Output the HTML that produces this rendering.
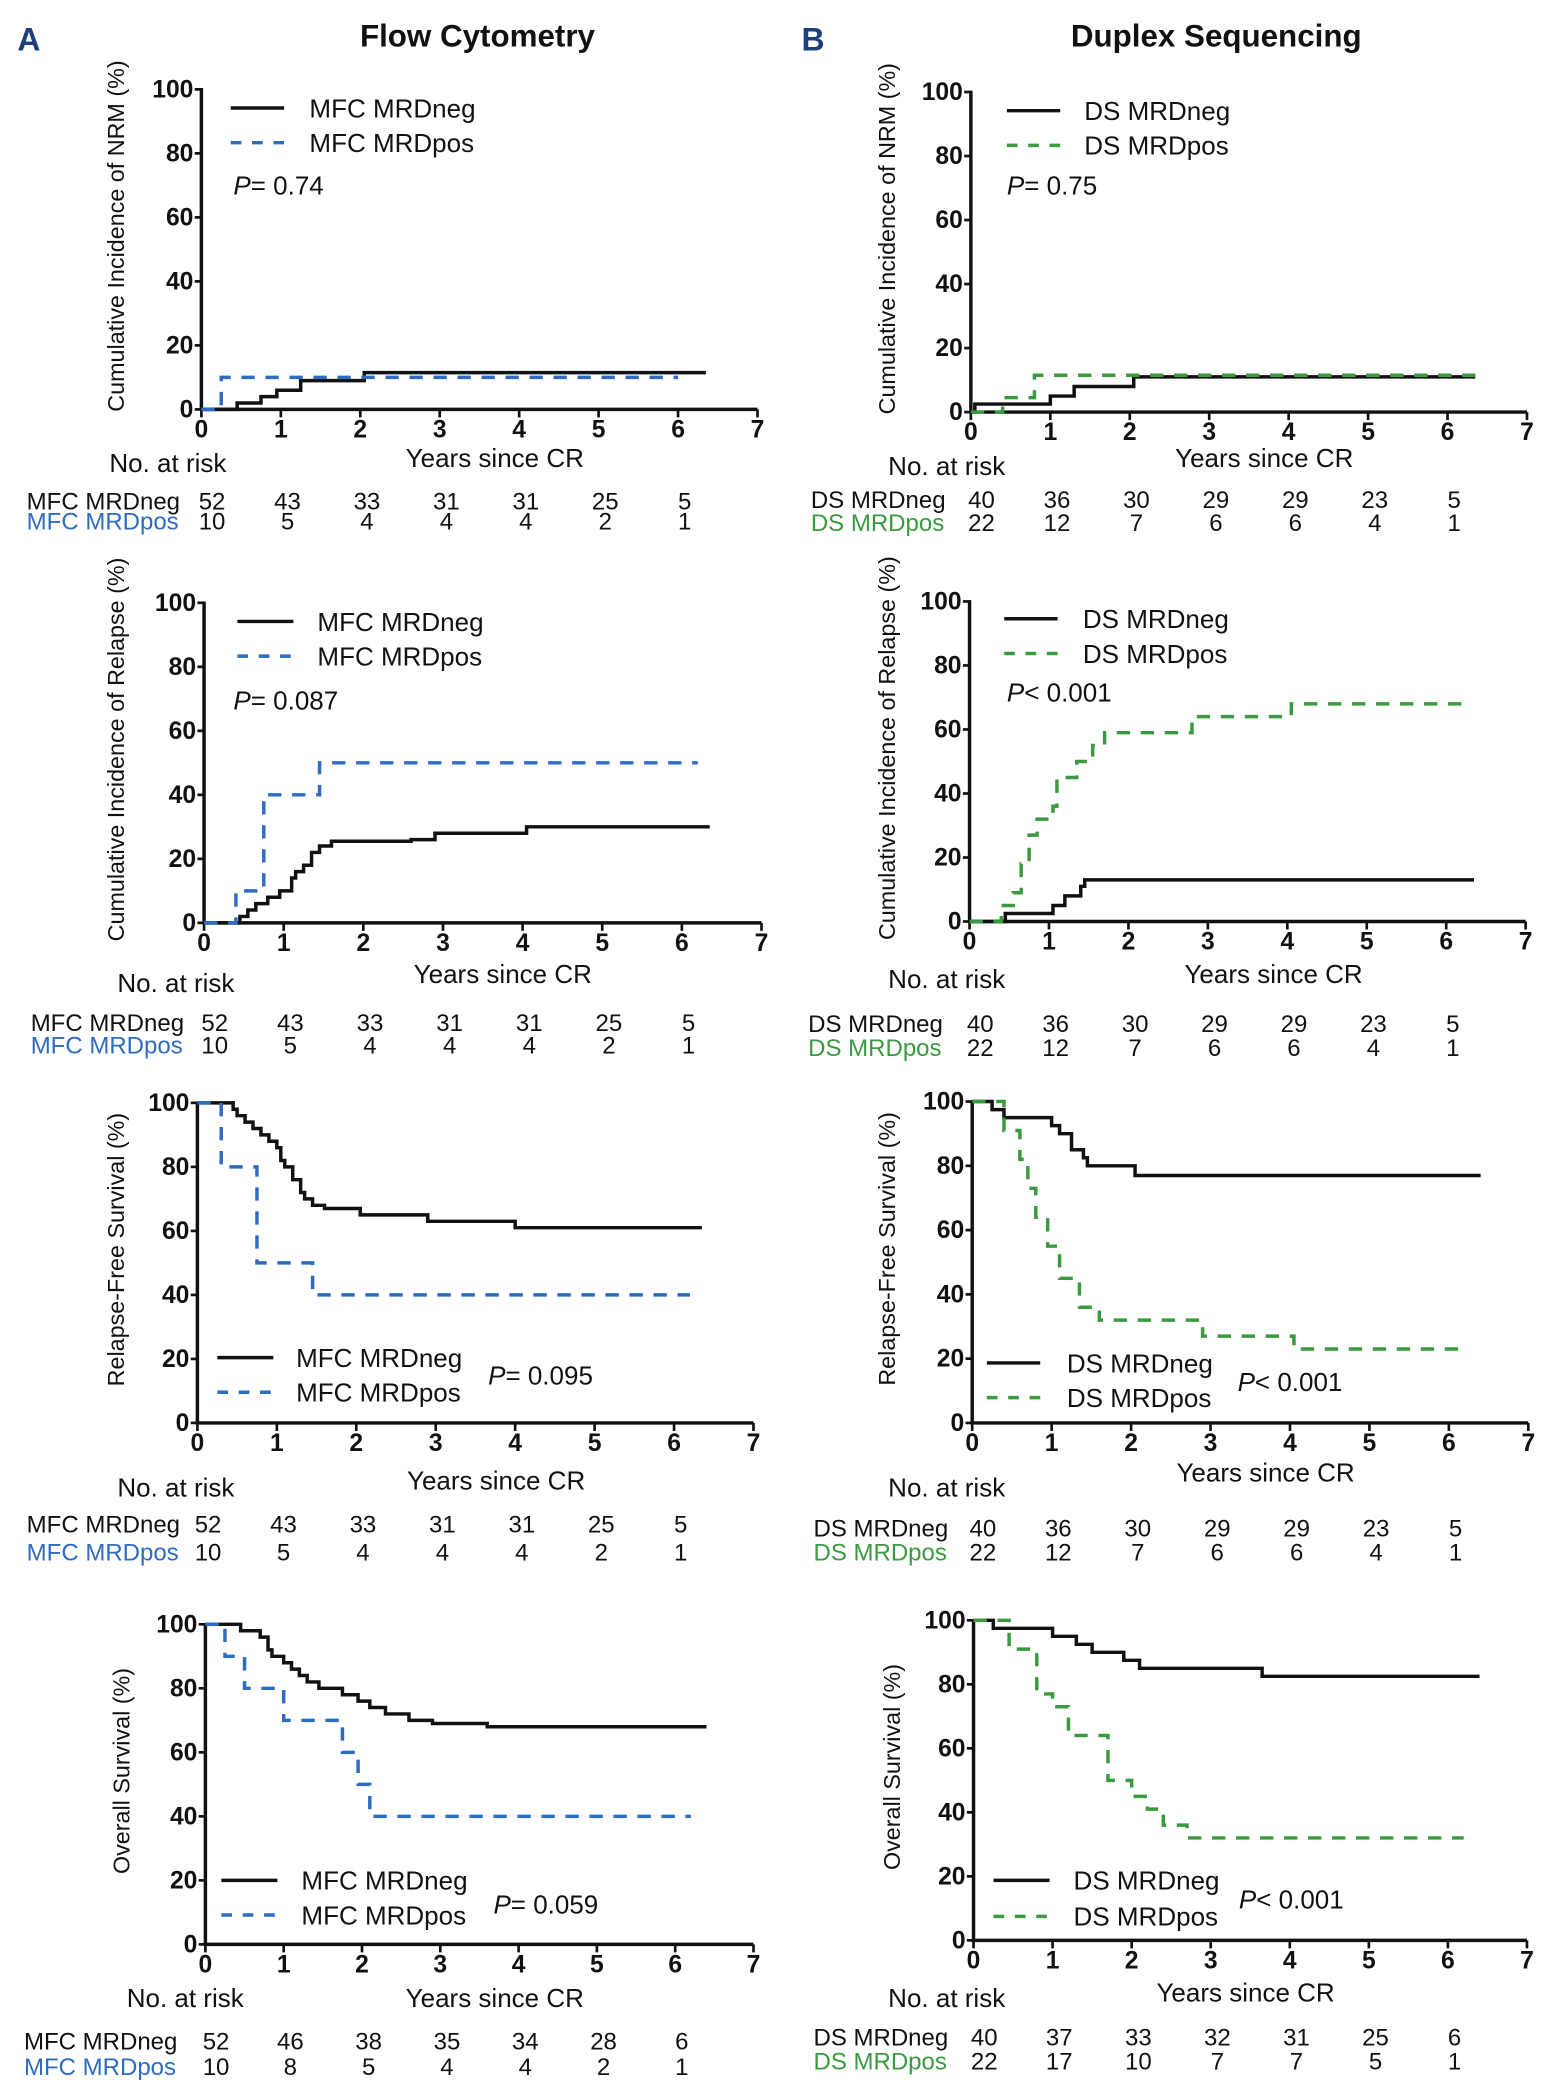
<!DOCTYPE html>
<html><head><meta charset="utf-8"><style>
html,body{margin:0;padding:0;background:#fff}
svg{display:block}
text{font-family:"Liberation Sans Narrow","Liberation Sans",sans-serif;fill:#111}
.tick{font-weight:bold;font-size:18.5px}
.lab{font-size:19.5px}
.ytitle{font-family:"Liberation Sans",sans-serif;font-size:17.5px}
.risk{font-size:18px}
</style></head><body>
<svg id="fig" width="1547" height="2092" viewBox="0 0 1160 1568.7" xmlns="http://www.w3.org/2000/svg">
<text x="13" y="38" style="font-family:'Liberation Sans',sans-serif;font-weight:bold;font-size:24px;fill:#1f3f7a">A</text>
<text x="601" y="38" style="font-family:'Liberation Sans',sans-serif;font-weight:bold;font-size:24px;fill:#1f3f7a">B</text>
<text x="358" y="35" text-anchor="middle" style="font-family:'Liberation Sans',sans-serif;font-weight:bold;font-size:23.5px">Flow Cytometry</text>
<text x="912" y="35" text-anchor="middle" style="font-family:'Liberation Sans',sans-serif;font-weight:bold;font-size:23.5px">Duplex Sequencing</text>
</svg>
<script>
// ---- data (years, percent) ----
const a1NegX=[0,0.45,0.75,0.95,1.25,2.05,6.35];
const a1NegY=[0,2,4,6,9,11.5,11.5];
const a1PosX=[0,0.25,6.0];
const a1PosY=[0,10,10];
const a2NegX=[0,0.45,0.55,0.65,0.8,0.95,1.1,1.15,1.25,1.35,1.45,1.6,2.6,2.9,4.05,6.35];
const a2NegY=[0,2,4,6,8,10,14,16,18,22,24,25.5,26,28,30,30];
const a2PosX=[0,0.4,0.75,1.45,6.2];
const a2PosY=[0,10,40,50,50];
const a3NegX=[0,0.45,0.5,0.6,0.7,0.8,0.9,1.0,1.05,1.1,1.2,1.3,1.35,1.45,1.6,2.05,2.9,4.0,6.35];
const a3NegY=[100,98,96,94,92,90,88,86,82,80,76,72,70,68,67,65,63,61,61];
const a3PosX=[0,0.3,0.75,1.45,6.2];
const a3PosY=[100,80,50,40,40];
const a4NegX=[0,0.45,0.7,0.8,0.85,1.0,1.1,1.2,1.3,1.45,1.75,1.95,2.1,2.3,2.6,2.9,3.6,6.4];
const a4NegY=[100,98,96,92,90,88,86,84,82,80,78,76,74,72,70,69,68,68];
const a4PosX=[0,0.25,0.5,1.0,1.75,1.95,2.1,6.2];
const a4PosY=[100,90,80,70,60,50,40,40];
const b1NegX=[0,0.05,1.0,1.3,2.05,6.35];
const b1NegY=[0,2.5,5,8,11,11];
const b1PosX=[0,0.4,0.8,6.35];
const b1PosY=[0,4.5,11.5,11.5];
const b2NegX=[0,0.45,1.05,1.2,1.4,1.45,6.35];
const b2NegY=[0,2.5,5,8,11,13,13];
const b2PosX=[0,0.4,0.55,0.65,0.75,0.85,1.05,1.1,1.35,1.55,1.7,2.8,4.05,6.2];
const b2PosY=[0,5,9,18,27,32,36,45,50,55,59,64,68,68];
const b3NegX=[0,0.25,0.4,1.0,1.1,1.25,1.4,1.45,2.05,6.4];
const b3NegY=[100,97.5,95,92.5,90,85,82.5,80,77,77];
const b3PosX=[0,0.4,0.6,0.7,0.8,0.95,1.1,1.35,1.6,2.9,4.05,6.2];
const b3PosY=[100,91,82,73,64,55,45,36,32,27,23,23];
const b4NegX=[0,0.25,1.0,1.3,1.5,1.9,2.1,3.65,6.4];
const b4NegY=[100,97.5,95,92.5,90,87.5,85,82.5,82.5];
const b4PosX=[0,0.45,0.8,1.0,1.2,1.7,2.0,2.2,2.4,2.7,6.2];
const b4PosY=[100,91,77,73,64,50,45,41,36,32,32];
const xTicks=["0","1","2","3","4","5","6","7"];
const yTicks=["0","20","40","60","80","100"];
const riskMfcNeg=["52","43","33","31","31","25","5"];
const riskMfcPos=["10","5","4","4","4","2","1"];
const riskMfcNegOS=["52","46","38","35","34","28","6"];
const riskMfcPosOS=["10","8","5","4","4","2","1"];
const riskDsNeg=["40","36","30","29","29","23","5"];
const riskDsPos=["22","12","7","6","6","4","1"];
const riskDsNegOS=["40","37","33","32","31","25","6"];
const riskDsPosOS=["22","17","10","7","7","5","1"];

const NS="http://www.w3.org/2000/svg";
const svg=document.getElementById('fig');
const BLUE="#2e6cc0",GREEN="#3b9a40";
function mk(tag,attrs,parent){const e=document.createElementNS(NS,tag);for(const k in attrs)e.setAttribute(k,attrs[k]);(parent||svg).appendChild(e);return e;}
function txt(x,y,s,cls,parent,anchor,fill){const t=mk('text',{x:x,y:y,class:cls},parent);if(anchor)t.setAttribute('text-anchor',anchor);if(fill)t.style.fill=fill;t.textContent=s;return t;}

const panels=[
 {id:'a1',x0:151,x7:568,y0:307,y100:67,yt:'Cumulative Incidence of NRM (%)',ytx:88,
  neg:[a1NegX,a1NegY],pos:[a1PosX,a1PosY],pc:BLUE,names:['MFC MRDneg','MFC MRDpos'],
  leg:[173,213,232,81,107],p:[175,140,'= 0.74'],years:[371,343],nar:[82,347],rows:[376,391],rl:20,risk:[riskMfcNeg,riskMfcPos]},
 {id:'a2',x0:153,x7:571,y0:692,y100:452,yt:'Cumulative Incidence of Relapse (%)',ytx:88,
  neg:[a2NegX,a2NegY],pos:[a2PosX,a2PosY],pc:BLUE,names:['MFC MRDneg','MFC MRDpos'],
  leg:[178,220,238,466,492],p:[175,526,'= 0.087'],years:[377,730],nar:[88,737],rows:[767,784],rl:23,risk:[riskMfcNeg,riskMfcPos]},
 {id:'a3',x0:148,x7:565,y0:1067,y100:827,yt:'Relapse-Free Survival (%)',ytx:88,
  neg:[a3NegX,a3NegY],pos:[a3PosX,a3PosY],pc:BLUE,names:['MFC MRDneg','MFC MRDpos'],
  leg:[163,205,222,1018,1044],p:[366,1032,'= 0.095'],years:[372,1110],nar:[88,1115],rows:[1143,1164],rl:20,risk:[riskMfcNeg,riskMfcPos]},
 {id:'a4',x0:154,x7:565,y0:1458,y100:1218,yt:'Overall Survival (%)',ytx:92,
  neg:[a4NegX,a4NegY],pos:[a4PosX,a4PosY],pc:BLUE,names:['MFC MRDneg','MFC MRDpos'],
  leg:[166,208,226,1410,1436],p:[370,1429,'= 0.059'],years:[371,1498],nar:[95,1498],rows:[1531,1550],rl:18,risk:[riskMfcNegOS,riskMfcPosOS]},
 {id:'b1',x0:728,x7:1145,y0:309,y100:69,yt:'Cumulative Incidence of NRM (%)',ytx:666,
  neg:[b1NegX,b1NegY],pos:[b1PosX,b1PosY],pc:GREEN,names:['DS MRDneg','DS MRDpos'],
  leg:[755,795,813,83,109],p:[755,140,'= 0.75'],years:[948,343],nar:[666,349],rows:[375,392],rl:608,risk:[riskDsNeg,riskDsPos]},
 {id:'b2',x0:727,x7:1144,y0:691,y100:451,yt:'Cumulative Incidence of Relapse (%)',ytx:666,
  neg:[b2NegX,b2NegY],pos:[b2PosX,b2PosY],pc:GREEN,names:['DS MRDneg','DS MRDpos'],
  leg:[753,793,812,464,490],p:[755,520,'< 0.001'],years:[955,730],nar:[666,734],rows:[768,786],rl:606,risk:[riskDsNeg,riskDsPos]},
 {id:'b3',x0:729,x7:1146,y0:1067,y100:826,yt:'Relapse-Free Survival (%)',ytx:666,
  neg:[b3NegX,b3NegY],pos:[b3PosX,b3PosY],pc:GREEN,names:['DS MRDneg','DS MRDpos'],
  leg:[740,780,800,1022,1048],p:[928,1037,'< 0.001'],years:[949,1104],nar:[666,1115],rows:[1146,1164],rl:610,risk:[riskDsNeg,riskDsPos]},
 {id:'b4',x0:730,x7:1145,y0:1455,y100:1215,yt:'Overall Survival (%)',ytx:670,
  neg:[b4NegX,b4NegY],pos:[b4PosX,b4PosY],pc:GREEN,names:['DS MRDneg','DS MRDpos'],
  leg:[745,787,805,1410,1437],p:[929,1425,'< 0.001'],years:[934,1494],nar:[666,1498],rows:[1528,1546],rl:610,risk:[riskDsNegOS,riskDsPosOS]}
];

panels.forEach(P=>{
 const g=mk('g',{});
 
 
 const sx=v=>P.x0+(P.x7-P.x0)*v/7;
 const sy=v=>P.y0-(P.y0-P.y100)*v/100;
 const ax=mk('path',{d:`M${P.x0},${P.y100-1}V${P.y0}H${P.x7}`,fill:'none',stroke:'#111','stroke-width':2.6},g);
 
 
 yTicks.forEach(t=>{const v=+t;mk('line',{x1:P.x0-5,x2:P.x0,y1:sy(v),y2:sy(v),stroke:'#111','stroke-width':2},g);
  const e=txt(P.x0-6,sy(v)+6,t,'tick',g,'end');
  
  });
 xTicks.forEach(t=>{const v=+t;mk('line',{x1:sx(v),x2:sx(v),y1:P.y0,y2:P.y0+6,stroke:'#111','stroke-width':2},g);
  const e=txt(sx(v),P.y0+21,t,'tick',g,'middle');
  
  });
 const yt=txt(0,0,P.yt,'ytitle',g,'middle');
 yt.setAttribute('transform',`translate(${P.ytx+5},${(P.y0+P.y100)/2-10}) rotate(-90)`);
 
 
 const xt=txt(P.years[0],P.years[1]+7,'Years since CR','lab',g,'middle');
 
 
 function step(X,Y){let d=`M${sx(X[0])},${sy(Y[0])}`;for(let i=1;i<X.length;i++){d+=`H${sx(X[i])}V${sy(Y[i])}`;}return d;}
 const neg=mk('path',{d:step(P.neg[0],P.neg[1]),fill:'none',stroke:'#111','stroke-width':2.6},g);
 
 
 const pos=mk('path',{d:step(P.pos[0],P.pos[1]),fill:'none',stroke:P.pc,'stroke-width':2.6,'stroke-dasharray':'10 8'},g);
 
 
 const L=P.leg;
 mk('line',{x1:L[0],x2:L[1],y1:L[3],y2:L[3],stroke:'#111','stroke-width':2.6},g);
 const l1=txt(L[2],L[3]+7,P.names[0],'lab',g);
 
 
 mk('line',{x1:L[0],x2:L[1],y1:L[4],y2:L[4],stroke:P.pc,'stroke-width':2.6,'stroke-dasharray':'8 8'},g);
 const l2=txt(L[2],L[4]+7,P.names[1],'lab',g);
 
 
 const pv=mk('text',{x:P.p[0],y:P.p[1]+6,class:'lab'},g);
 
 
 const ti=mk('tspan',{'font-style':'italic'},pv);ti.textContent='P';
 const t2=mk('tspan',{},pv);t2.textContent=P.p[2];
 const nr=txt(P.nar[0],P.nar[1]+7,'No. at risk','lab',g);
 
 
 [0,1].forEach(r=>{
  const c=r?P.pc:'#111';
  const lbl=txt(P.rl,P.rows[r]+6,P.names[r],'risk',g,null,c);
  
  
  P.risk[r].forEach((n,i)=>{
   const e=txt(sx(i)+(i===0?8:5),P.rows[r]+6,n,'risk',g,'middle');
   
   
  });
 });
});
</script>
</body></html>
